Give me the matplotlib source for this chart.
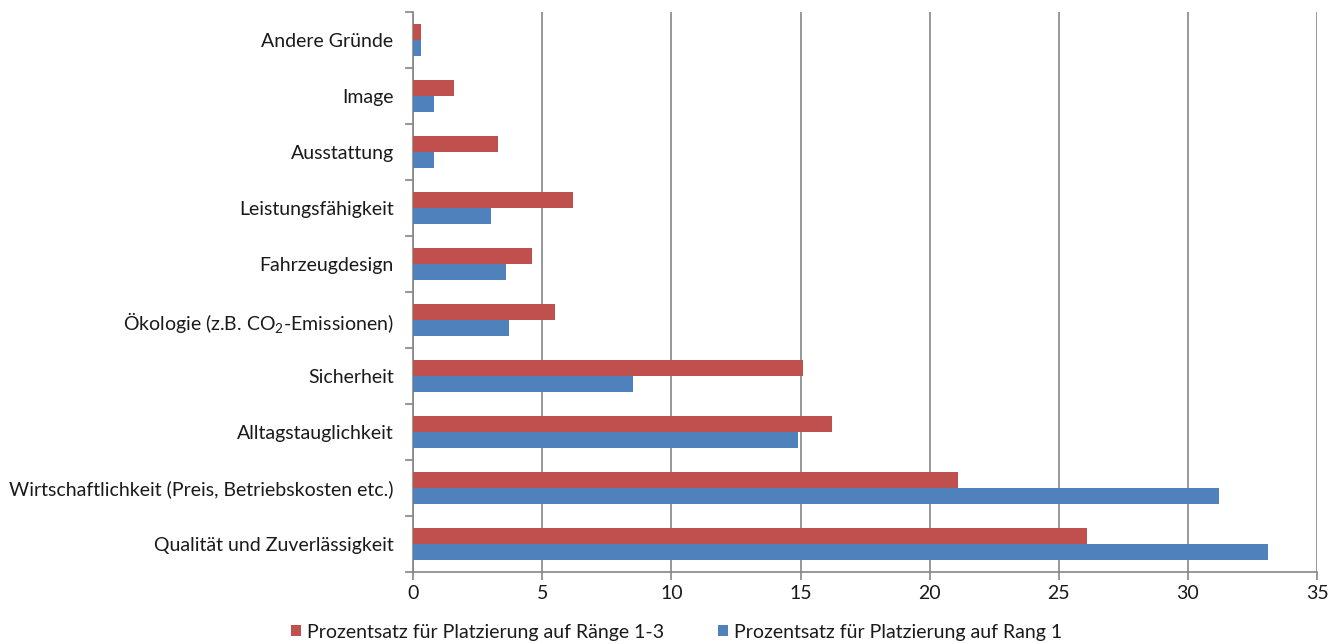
import matplotlib
matplotlib.use("Agg")
import matplotlib.pyplot as plt
import numpy as np

plt.rcParams['font.family'] = ['Lato', 'DejaVu Sans']
plt.rcParams['mathtext.fontset'] = 'custom'
plt.rcParams['mathtext.rm'] = 'Lato'
plt.rcParams['mathtext.it'] = 'Lato'

# categories from bottom to top
categories = [
    'Qualität und Zuverlässigkeit',
    'Wirtschaftlichkeit (Preis, Betriebskosten etc.)',
    'Alltagstauglichkeit',
    'Sicherheit',
    'Ökologie (z.B. CO$_2$-Emissionen)',
    'Fahrzeugdesign',
    'Leistungsfähigkeit',
    'Ausstattung',
    'Image',
    'Andere Gründe',
]
rang_1_3 = [26.1, 21.1, 16.2, 15.1, 5.5, 4.6, 6.2, 3.3, 1.6, 0.3]
rang_1 = [33.1, 31.2, 14.9, 8.5, 3.7, 3.6, 3.0, 0.8, 0.8, 0.3]
legends = ('Prozentsatz für Platzierung auf Ränge 1-3',
           'Prozentsatz für Platzierung auf Rang 1')

red = '#C0504D'
blue = '#4F81BD'
grey = '#868686'

fig = plt.figure(figsize=(13.38, 6.44), dpi=100)
ax = fig.add_axes([0.3087, 0.1118, 0.6757, 0.8692])

ind = np.arange(len(categories))
h = 0.29
b1 = ax.barh(ind + h / 2, rang_1_3, h, color=red, label=legends[0], zorder=3)
b2 = ax.barh(ind - h / 2, rang_1, h, color=blue, label=legends[1], zorder=3)

ax.set_xlim(0, 35)
ax.set_ylim(-0.5, len(categories) - 0.5)
ax.set_xticks(np.arange(0, 36, 5))
ax.xaxis.grid(True, color=grey, linewidth=1.2, zorder=0)

# category separators as major ticks, labels on minor ticks
ax.set_yticks(np.arange(-0.5, len(categories), 1))
ax.set_yticklabels([])
ax.set_yticks(ind, minor=True)
ax.set_yticklabels(categories, minor=True)
ax.tick_params(axis='y', which='minor', length=0, pad=14, labelsize=14, labelcolor='#1a1a1a')
ax.tick_params(axis='y', which='major', length=6, width=1.2, color=grey, direction='out')
ax.tick_params(axis='x', length=6, width=1.2, color=grey, direction='out', labelsize=14,
               labelcolor='#1a1a1a', pad=3)

for s in ['top', 'right']:
    ax.spines[s].set_visible(False)
for s in ['left', 'bottom']:
    ax.spines[s].set_color(grey)
    ax.spines[s].set_linewidth(1.2)

fig.legend(handles=[b1, b2], loc='lower center', bbox_to_anchor=(0.5056, -0.022), ncol=2,
           frameon=False, fontsize=14, handlelength=0.5, handleheight=0.5,
           handletextpad=0.3, columnspacing=2.8, labelcolor='#1a1a1a')

fig.savefig('out.png', dpi=100)
